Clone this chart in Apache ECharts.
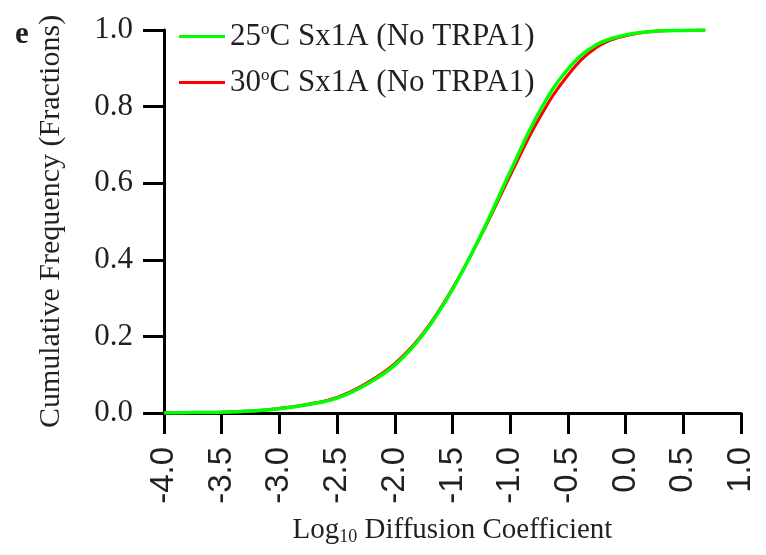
<!DOCTYPE html>
<html>
<head>
<meta charset="utf-8">
<script src="https://cdn.jsdelivr.net/npm/echarts@6/dist/echarts.min.js"></script>
<style>
  html, body { margin: 0; padding: 0; background: #fff; }
  #chart { width: 766px; height: 555px; }
</style>
</head>
<body>
<div id="chart"></div>
<script>
var xValues = [-4.0, -3.75, -3.5, -3.25, -3.0, -2.75, -2.5, -2.25, -2.0, -1.75, -1.5, -1.25, -1.0, -0.75, -0.5, -0.25, 0.0, 0.25, 0.5, 0.69];
var green25 = [0.000, 0.001, 0.002, 0.005, 0.011, 0.022, 0.039, 0.074, 0.125, 0.207, 0.323, 0.467, 0.630, 0.785, 0.898, 0.962, 0.987, 0.997, 0.999, 1.000];
var red30 = [0.000, 0.001, 0.002, 0.005, 0.012, 0.023, 0.041, 0.077, 0.129, 0.210, 0.325, 0.465, 0.620, 0.768, 0.882, 0.955, 0.985, 0.997, 0.999, 1.000];
var seriesNames = ['25{sup|o}C Sx1A (No TRPA1)', '30{sup|o}C Sx1A (No TRPA1)'];

var serif = 'Liberation Serif';
var sans = 'Liberation Sans';
var ink = '#231f20';

function pairs(xs, ys) {
    return xs.map(function (x, i) { return [x, ys[i]]; });
}

var myChart = echarts.init(document.getElementById('chart'));
var option = {
    animation: false,
    textStyle: { fontFamily: serif, color: ink },
    grid: { left: 164, right: 25, top: 30, bottom: 142, containLabel: false },
    title: {
        text: 'e',
        left: 10, top: 14,
        textStyle: { fontFamily: serif, fontWeight: 'bold', fontSize: 31, color: ink }
    },
    legend: {
        orient: 'vertical',
        left: 174, top: 16,
        icon: 'rect',
        itemWidth: 46, itemHeight: 3,
        itemGap: 15,
        data: seriesNames,
        textStyle: {
            fontFamily: serif, fontSize: 31, color: ink,
            rich: { sup: { fontFamily: serif, fontSize: 17, color: ink, verticalAlign: 'top', padding: [0, 0, 12, 0] } }
        }
    },
    xAxis: {
        type: 'value',
        min: -4, max: 1, interval: 0.5,
        name: 'Log{sub|10} Diffusion Coefficient',
        nameLocation: 'middle',
        nameGap: 101,
        nameTextStyle: {
            fontFamily: serif, fontSize: 29, color: ink,
            rich: { sub: { fontFamily: serif, fontSize: 18, color: ink, verticalAlign: 'bottom', padding: [14, 0, 0, 0] } }
        },
        axisLine: { onZero: false, lineStyle: { color: '#000', width: 3 } },
        axisTick: { length: 21, lineStyle: { color: '#000', width: 3 } },
        splitLine: { show: false },
        axisLabel: {
            rotate: 90, margin: 34,
            fontFamily: sans, fontSize: 33, color: ink,
            formatter: function (v) { return (Math.abs(v) < 1e-9 ? 0 : v).toFixed(1); }
        }
    },
    yAxis: {
        type: 'value',
        min: 0, max: 1, interval: 0.2,
        name: 'Cumulative Frequency (Fractions)',
        nameLocation: 'middle',
        nameGap: 98,
        nameTextStyle: { fontFamily: serif, fontSize: 30, color: ink },
        axisLine: { show: true, onZero: false, lineStyle: { color: '#000', width: 3 } },
        axisTick: { show: true, length: 21, lineStyle: { color: '#000', width: 3 } },
        splitLine: { show: false },
        axisLabel: {
            margin: 31,
            fontFamily: serif, fontSize: 31, color: ink,
            formatter: function (v) { return v.toFixed(1); }
        }
    },
    series: [
        {
            name: seriesNames[1],
            type: 'line',
            data: pairs(xValues, red30),
            smooth: 0.4,
            symbol: 'none',
            color: '#ff0000',
            lineStyle: { width: 3, color: '#ff0000' },
            z: 2
        },
        {
            name: seriesNames[0],
            type: 'line',
            data: pairs(xValues, green25),
            smooth: 0.4,
            symbol: 'none',
            color: '#00ff00',
            lineStyle: { width: 3.5, color: '#00ff00' },
            z: 3
        }
    ]
};
myChart.setOption(option);
</script>
</body>
</html>
